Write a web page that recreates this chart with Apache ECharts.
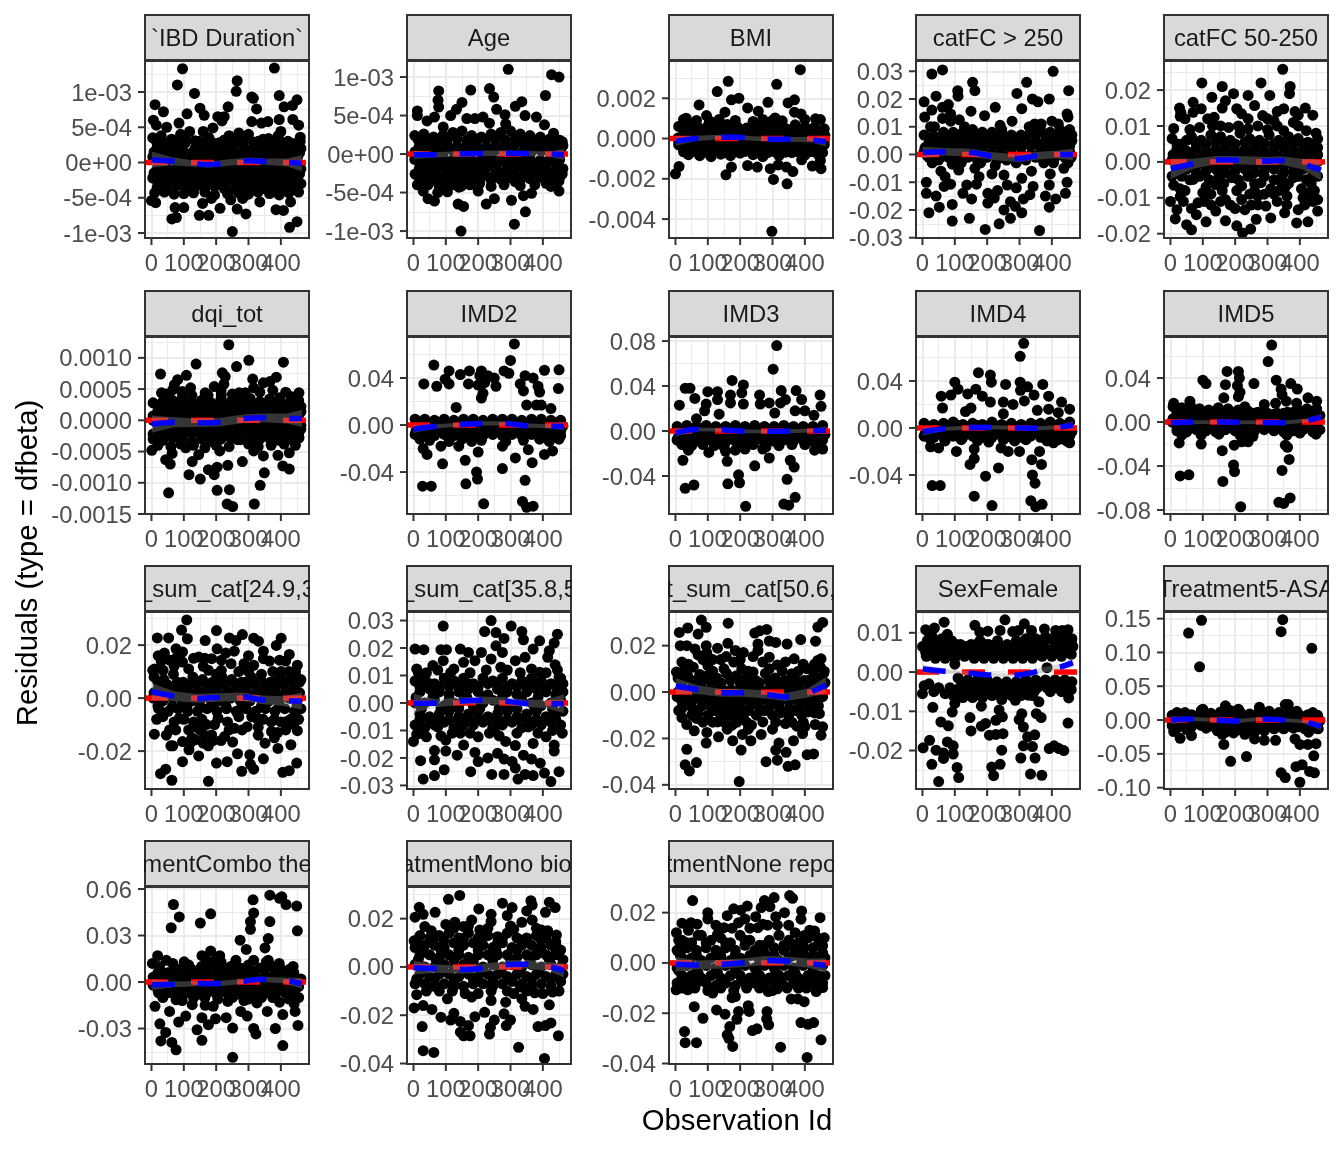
<!DOCTYPE html>
<html><head><meta charset="utf-8"><style>html,body{margin:0;padding:0;background:#fff}#c{width:1344px;height:1152px}</style>
<script src="https://cdn.jsdelivr.net/npm/echarts@6/dist/echarts.min.js"></script></head><body><div id="c"></div>
<script>
// Values: flat pairs of observation id, value (in each panel's unit).
const obsTicks=[0,100,200,300,400];
const ibdPts=[96,133,80,110,133,98,11,82,37,72,150,77,163,67,110,69,6,60,15,53,47,50,85,56,160,44,190,49,205,65,225,65,218,59,237,79,265,116,262,101,380,134,395,95,310,93,315,91,325,76,310,58,340,56,360,58,395,61,410,79,436,81,450,89,437,61,455,53,400,44,460,36,0,-54,13,-57,73,-64,100,-64,63,-80,77,-78,148,-75,177,-75,212,-65,250,-98,265,-66,292,-73,385,-67,408,-68,427,-92,450,-84,158,-58,185,-51,282,-51,335,-56,430,-56,245,-53];
const ibdBand=[4,35,30,38,62,33,90,40,118,44,148,30,178,35,210,28,240,38,270,42,300,40,330,30,362,34,392,38,422,30,452,28,18,22,46,20,78,24,105,28,135,20,165,22,195,18,225,24,255,26,285,22,315,20,345,24,375,22,405,20,435,24,462,20,4,8,32,6,60,10,92,8,122,6,150,9,180,7,210,8,240,7,270,9,300,6,330,8,360,7,392,9,422,7,452,8,18,-8,46,-6,76,-9,105,-7,135,-6,165,-8,195,-7,225,-9,255,-6,285,-8,315,-7,345,-9,375,-6,405,-8,435,-7,462,-9,4,-22,32,-20,62,-23,90,-21,120,-22,150,-20,180,-24,210,-21,240,-23,270,-20,300,-22,330,-24,360,-21,392,-22,422,-20,452,-23,18,-35,46,-37,76,-33,105,-38,135,-35,165,-36,195,-34,225,-37,255,-38,285,-35,315,-33,345,-37,375,-35,405,-36,435,-34,462,-30];
const ibdFill=[15,30,45,28,75,30,105,34,135,31,165,29,195,27,225,32,255,33,285,30,315,29,345,33,375,31,405,28,435,27,460,30,8,15,38,14,68,17,98,16,128,15,158,16,188,14,218,15,248,17,278,15,308,14,338,16,368,15,398,14,428,16,458,14,20,1,50,2,80,0,110,1,140,2,170,0,200,1,230,0,260,2,290,1,320,0,350,2,380,0,410,1,440,2,8,-15,38,-14,68,-16,98,-14,128,-15,158,-14,188,-16,218,-15,248,-14,278,-16,308,-15,338,-14,368,-16,398,-15,428,-14,458,-16,20,-29,50,-28,80,-30,110,-29,140,-28,170,-30,200,-29,230,-28,260,-30,290,-29,320,-28,350,-30,380,-29,410,-28,440,-30,10,-43,40,-42,70,-45,100,-44,130,-43,165,-42,195,-46,235,-44,270,-43,300,-45,330,-42,365,-44,395,-46,425,-43,455,-42];
const ibdFit=[1,4,10,60,2,5,120,-1,4,180,-3,4,240,0,4,300,2.5,4,360,1,4,420,0,5,465,-1,10];
const ageVal=[293,110,427,103,450,100,408,76,78,82,177,83,235,85,248,74,76,70,78,61,150,67,133,58,12,56,12,50,257,58,335,68,315,62,115,50,65,48,42,43,165,46,190,46,215,48,235,40,283,51,285,39,345,50,380,48,405,38,92,35,433,27,147,-100,312,-91,346,-75,303,-60,147,-42,155,-68,138,-65,225,-65,250,-58,340,-54,365,-51,450,-48,425,-42,200,-48,105,-49,65,-61,45,-58,12,-40,30,-48,5,-26,450,-35,450,-21,315,-36,85,-42,75,-50,95,-36];
const ageBand=[4,24,32,26,62,22,92,25,122,28,150,30,180,24,210,22,240,26,270,28,300,30,330,26,360,24,392,22,422,20,452,18,18,10,46,12,76,9,105,12,135,10,165,13,195,11,225,9,255,12,285,10,315,13,345,11,375,10,405,12,435,9,462,11,4,-7,32,-6,62,-8,92,-5,122,-7,150,-6,180,-8,210,-7,240,-5,270,-8,300,-6,330,-7,360,-5,392,-8,422,-6,452,-7,18,-19,46,-21,76,-18,105,-20,135,-22,165,-19,195,-21,225,-18,255,-20,285,-22,315,-19,345,-21,375,-18,405,-20,435,-22,462,-19,30,-33,62,-34,92,-31,122,-33,150,-35,180,-32,210,-30,240,-34,270,-33,300,-31,330,-34,360,-32,392,-30,422,-33,452,-30];
const ageFill=[15,18,45,19,75,17,105,19,135,20,165,18,195,17,225,19,255,20,285,18,315,20,345,18,375,17,405,16,435,15,460,16,5,3,35,3,65,2,95,4,125,3,155,2,185,4,215,3,245,2,275,4,305,3,335,2,365,3,395,4,425,2,455,3,20,-13,50,-14,80,-12,110,-13,140,-14,170,-12,200,-14,230,-13,260,-12,290,-14,320,-13,350,-12,380,-14,410,-13,440,-12,10,-27,40,-26,70,-28,100,-27,130,-26,160,-28,190,-27,220,-26,250,-28,280,-26,310,-27,340,-28,370,-26,400,-27,430,-28,460,-26,80,-42,100,-45,120,-40,140,-43,175,-40,205,-38,240,-42,280,-40,330,-41,375,-40,410,-38,440,-40,20,-38,45,-40];
const ageFit=[1,-1,5,60,-1,3,120,0,3,180,0.5,3,240,1,3,300,1,3,360,0.5,3,420,0,3,465,-0.5,6];
const bmiVal=[386,342,313,269,163,284,129,233,173,192,196,200,73,167,96,114,153,131,223,152,256,136,286,180,348,177,368,192,368,131,388,122,308,102,433,98,448,94,33,101,298,-461,0,-175,11,-139,156,-180,173,-142,223,-134,253,-142,303,-203,345,-225,363,-164,293,-150,318,-131,343,-142,450,-150,423,-137,390,-106,448,-109];
const bmiBand=[10,60,40,75,70,55,100,62,130,58,160,70,190,60,220,52,250,65,280,58,310,60,340,50,370,68,400,58,430,56,460,48,25,20,55,25,85,22,115,18,145,25,175,20,205,28,235,22,265,18,295,24,325,20,355,26,385,22,415,18,445,25,462,15,10,-15,40,-12,70,-18,100,-14,130,-12,160,-16,190,-15,220,-18,250,-12,280,-15,310,-14,340,-18,370,-12,400,-16,430,-15,460,-12,25,-48,55,-50,85,-45,115,-52,145,-48,175,-55,205,-46,235,-50,265,-48,295,-52,325,-46,355,-50,385,-48,415,-52,445,-46,40,-80,75,-85,110,-90,140,-78,170,-85,200,-72,240,-80,270,-90,320,-85,360,-70,400,-82,440,-78];
const bmiFill=[25,42,55,40,85,45,115,38,145,42,175,40,205,44,235,38,265,42,295,40,325,38,355,44,385,40,415,42,445,36,8,2,38,4,68,0,98,3,128,2,158,5,188,1,218,4,248,2,278,0,308,3,338,2,368,5,398,1,428,3,458,0,10,-32,40,-30,70,-34,100,-32,130,-35,160,-30,190,-34,220,-32,250,-30,280,-34,310,-32,340,-35,370,-30,400,-34,430,-32,460,-30,25,-66,60,-64,95,-68,125,-65,155,-70,185,-66,215,-64,250,-68,285,-70,305,-65,340,-68,380,-66,420,-65,455,-70,25,95,65,90,105,88,135,95,185,90,240,85,270,95,300,90,330,88,400,95];
const bmiFit=[1,-13,20,60,0,12,120,6,10,180,7,10,240,0,10,300,-3,10,360,-4,10,420,-6,12,465,-15,20];
const fc250Val=[62,30.5,29,29,404,30,155,26,322,26,109,23,162,23,110,21,452,23,42,21,292,22,392,20,340,20,357,19,5,19,80,18,62,17,29,16,307,16.5,225,17,150,15.6,7,13.5,62,13,87,14.6,87,12,114,12.5,192,14,277,12,447,14.6,450,13.5,37,10,347,11,367,11,194,-27,362,-27.4,92,-24,145,-23,20,-21,237,-25,272,-23,52,-19,92,-18,152,-16,202,-17.5,252,-20,307,-21,287,-18.7,392,-19,442,-14,412,-16,332,-14.5,12,-14,42,-15,67,-11.5,12,-10,57,-6,92,-3.5,137,-11,167,-10.7,215,-7,252,-7.4,202,-14,232,-13,307,-8.6,337,-6,342,-11.5,392,-11,447,-10,437,-5,162,-5,312,-16,222,-15.7,272,-17,112,-5.6,87,-10.7,262,-11];
const fc250Band=[5,7,35,6.5,65,8,95,8,125,8,155,9,185,8,215,8,245,9,275,7,305,7,335,8,365,9,395,8,425,9,455,9,20,4,50,4.5,80,4,110,5,140,4.5,170,5,200,4,230,5,260,4,290,4,320,5,350,4.5,380,5,410,4,440,5,462,5,5,1,35,1.5,65,1,95,1,125,0.5,155,1,185,1,215,0.5,245,0,275,0,305,0,335,0,365,1,395,1,425,1,455,1,20,-1,50,-2,80,-1,110,-1,140,-1,170,-2,200,-1,230,-2,260,-2,290,-2,320,-2,350,-1,380,-1,410,-1,440,-1];
const fc250Fill=[20,6,50,6,80,6,110,7,140,6.5,170,7,200,6,230,6.5,260,6,290,5.5,320,6.5,350,7,380,7,410,6,440,7,462,7,8,2.5,35,3,65,2.5,95,3,125,2.5,155,3,185,2.5,215,3,245,2,275,2,305,2.5,335,3,365,2.5,395,3,425,2.5,455,3,15,-0.5,60,-0.5,95,-1,130,-1,185,-1.5,250,-1,320,-1,370,-1,420,0,460,-1,30,-3,120,-3,180,-3,225,-4,290,-3,375,-3,405,-3,450,-3,70,-8,175,-8,290,-12,395,-7,125,-14,380,-15,25,10,130,10,240,10.5,330,10,420,11,400,12];
const fc250Fit=[1,0.7,1.8,70,1,1.2,150,0.7,1.2,210,-0.5,1.2,300,-1.4,1.2,350,-0.5,1.2,410,0,1.2,465,0,1.8];
const fc50Val=[347,25.8,97,22,280,22,370,21,368,19,160,21,128,18,195,19,240,18.5,307,18.5,70,16.6,170,17,28,15,32,13.8,30,12.7,70,13.8,95,14.8,135,12.4,160,15,205,14.8,260,15.7,220,13.4,285,12.9,350,14.8,385,14,417,15,440,13,320,11.5,380,11,10,9.3,90,9.6,180,9.6,240,9.2,300,9,350,8.7,420,8.7,455,6.4,223,-19.8,65,-18.9,50,-17.5,15,-15.9,205,-17.8,248,-18.7,265,-16,310,-15.6,390,-17,425,-16.7,455,-13.7,455,-10.5,170,-16.4,110,-16.7,80,-14.7,0,-11,30,-9.7,20,-13.3,85,-11.4,140,-13.7,230,-13.3,353,-14.2,295,-12.3,360,-9.5,170,-10.5,220,-10.5,270,-9.5,395,-13.3,430,-8.6,435,-6,345,-6.3,100,-8.6,190,-4.4,220,-6.7,140,-6.3,10,-6.5,70,-4.9,280,-5.8,380,-4.4,125,-9,250,-12,330,-11,410,-10,45,-8];
const fc50Band=[5,6.5,35,5,65,7,95,6,125,7.5,155,7,185,6,215,8,245,6.5,275,6,305,7.5,335,6,365,7,395,6.5,425,5.5,455,4,20,3.5,50,3,80,4,110,3,140,3.5,170,4,200,3,230,3.5,260,4,290,3,320,3.5,350,4,380,3,410,3.5,440,3,5,0.5,35,1,65,0.5,95,0,125,1,155,0.5,185,1,215,0,245,1,275,0.5,305,1,335,0,365,0.5,395,1,425,0.5,455,0,20,-2.5,50,-2,80,-3,110,-2.5,140,-2,170,-3,200,-2.5,230,-2,260,-3,290,-2.5,320,-2,350,-3,380,-2.5,410,-2,440,-3,5,-4,60,-5,120,-5,165,-6,210,-5,260,-6,320,-5,365,-6,420,-5,455,-4];
const fc50Fill=[20,5,50,6,80,5,110,5,140,5.5,170,5,200,5,230,5.5,260,5,290,5,320,5,350,5.5,380,5,410,5,440,4.5,8,2,35,2,65,2,95,1.5,125,2,155,2,185,2,215,1.5,245,2,275,2,305,2,335,1.5,365,2,395,2,425,1.5,455,2,20,-1,50,-1,80,-1,110,-1,140,-1,170,-1,200,-1,230,-1,260,-1,290,-1,320,-1,350,-1,380,-1,410,-1,440,-1,35,-4,90,-4,150,-4,195,-4,240,-4,290,-4,345,-4,395,-4,440,-4,30,-7.5,110,-7,160,-8,205,-8,260,-8,310,-7.5,355,-7,405,-7.5,445,-8,40,-11,105,-11,155,-11,200,-13,270,-12,320,-9,360,-12,440,-11,60,9,130,10,210,10,270,10,330,10,395,10,450,8,45,12,115,12,155,10,240,12,300,12,330,14,395,13,65,-13,125,-12,185,-12,245,-9,290,-9,335,-8,415,-12];
const fc50Fit=[1,-1.9,2.5,70,-0.5,1.2,140,0.5,1,200,0.5,1,300,0.2,1,340,0.4,1,410,-0.6,1.3,465,-2.3,2.5];
const dqiVal=[239,121,138,90,28,74,301,96,263,86,408,93,219,76,228,70,108,72,81,65,313,66,224,58,71,57,386,69,346,60,366,62,194,54,121,52,31,44,316,52,66,49,456,44,431,38,166,44,271,44,396,36,96,41,216,41,53,-116,203,-112,241,-111,234,-134,251,-138,318,-134,336,-104,116,-87,151,-94,194,-87,176,-79,203,-75,236,-72,349,-84,406,-73,426,-78,281,-66,126,-66,58,-70,44,-63,1,-48,64,-53,146,-55,211,-49,391,-56,426,-52,346,-57,316,-49,266,-31,106,-44,456,-28];
const dqiBand=[5,28,35,30,65,32,95,34,125,30,155,32,185,28,215,34,245,30,275,33,305,35,335,30,365,34,395,32,425,28,455,32,20,15,50,14,80,16,110,15,140,14,170,16,200,15,230,17,260,14,290,16,320,15,350,17,380,14,410,16,440,15,462,14,5,0,35,1,65,-1,95,0,125,1,155,-1,185,0,215,1,245,-1,275,0,305,1,335,-1,365,0,395,1,425,0,455,-1,20,-15,50,-16,80,-14,110,-15,140,-17,170,-14,200,-16,230,-15,260,-14,290,-16,320,-15,350,-17,380,-14,410,-16,440,-15,462,-14,5,-30,35,-32,65,-28,95,-30,125,-33,155,-30,185,-34,215,-30,245,-28,275,-31,305,-33,335,-30,365,-29,395,-32,425,-30,455,-28];
const dqiFill=[20,22,50,23,80,24,110,23,140,22,170,24,200,23,230,22,260,24,290,22,320,23,350,24,380,23,410,22,440,24,462,22,5,7,35,8,65,7,95,8,125,7,155,8,185,7,215,8,245,7,275,8,305,7,335,8,365,7,395,8,425,7,455,8,20,-7,50,-8,80,-7,110,-8,140,-7,170,-8,200,-7,230,-8,260,-7,290,-8,320,-7,350,-8,380,-7,410,-8,440,-7,462,-8,5,-22,35,-23,65,-22,95,-23,125,-22,155,-23,185,-24,215,-22,245,-23,275,-22,305,-24,335,-22,365,-23,395,-22,425,-24,455,-22,20,-40,60,-42,90,-38,130,-40,165,-44,200,-40,240,-42,300,-38,330,-42,370,-40,410,-38,445,-40,45,42,95,46,125,40,175,40,215,48,250,42,290,44,335,45,375,48,415,45,450,35];
const dqiFit=[1,-6,12,70,-3,7,140,-4,6,210,-3,6,290,3,6,350,4,6,420,3,7,465,3,12];
const imd2Val=[312,69,300,55,63,51,450,47,405,46.6,110,46,173,46,210,46,280,46,295,44,145,43,98,39,205,42,230,42,250,40,32,35,72,33,110,35,170,35,200,34,220,36,255,33,330,35,345,42,370,40,385,33,390,28,340,29,448,31,215,27,210,23,350,17,380,17,395,17,425,14,132,15,28,-52,55,-52,162,-50,217,-67,337,-65,350,-70,370,-69,345,-47,195,-40,198,-46,275,-37,160,-30,90,-33,315,-28,367,-32,200,-23,42,-25,30,-20,85,-18,180,-14,355,-21,405,-25,430,-22,140,-18,275,-18];
const imd2Band=[5,5,35,5,65,4,95,5,125,4,155,5,185,5,215,4,245,5,275,5,305,5,335,4,365,5,395,5,425,4,455,4,20,-1,50,-2,80,-1,110,-2,140,-1,170,-2,200,-2,230,-1,260,-2,290,-1,320,-2,350,-1,380,-2,410,-1,440,-2,462,-1,5,-8,35,-9,65,-9,95,-8,125,-9,155,-8,185,-9,215,-9,245,-8,275,-9,305,-8,335,-9,365,-8,395,-9,425,-8,455,-9];
const imd2Fill=[20,2,50,1,80,2,110,1,140,2,170,1,200,2,230,1,260,2,290,1,320,2,350,1,380,2,410,1,440,2,8,-5,35,-5,65,-5,95,-5,125,-5,155,-5,185,-5,215,-5,245,-5,275,-5,305,-5,335,-5,365,-5,395,-5,425,-5,455,-5,20,-12,50,-13,110,-14,150,-12,210,-13,285,-14,340,-13,390,-12,420,-14,450,-12];
const imd2Fit=[1,-3.4,3,70,-1.1,1.5,140,0.3,1.5,210,1.4,1.5,280,1.4,1.5,340,-0.3,1.5,410,-1,1.5,465,-1,3];
const imd3Val=[313,76,302,55,175,45,210,41,30,38,45,38,100,35,130,35,170,32,60,29,12,23,95,24,130,28,205,34,210,24,170,25,260,32,262,24,290,25,327,36,340,28,373,36,390,28,447,32,450,22,325,25,135,15,90,18,370,18,400,18,428,14,65,11,307,16,217,-67,30,-51,57,-48,162,-47,198,-46,195,-39,345,-43,335,-65,350,-66,370,-59,245,-31,290,-24,367,-32,355,-26,160,-27,23,-26,103,-19,40,-17,155,-18,215,-16,270,-16,430,-17,455,-16,185,-17];
const imd3Band=[5,4,35,5,65,4,95,5,125,4,155,4,185,5,215,4,245,5,275,4,305,4,335,5,365,4,395,4,425,4,455,5,20,-2,50,-3,80,-2,110,-3,140,-2,170,-3,200,-2,230,-3,260,-2,290,-3,320,-2,350,-3,380,-2,410,-3,440,-2,462,-3,5,-8,35,-9,65,-9,95,-8,125,-9,155,-10,185,-9,215,-8,245,-9,275,-10,305,-9,335,-8,365,-9,395,-8,425,-9,455,-8];
const imd3Fill=[20,1,50,1,80,1,110,1,140,1,170,1,200,1,230,1,260,1,290,1,320,1,350,1,380,1,410,1,440,1,8,-6,35,-6,65,-6,95,-6,125,-6,155,-6,185,-6,215,-6,245,-6,275,-6,305,-6,335,-6,365,-6,395,-6,425,-6,455,-6,20,-12,50,-13,85,-12,120,-13,150,-14,200,-13,240,-12,280,-14,320,-13,360,-12,400,-12,445,-13];
const imd3Fit=[1,-1.5,3,70,1.5,1.5,150,1,1.5,220,-0.3,1.5,340,-0.3,1.5,420,0.5,1.5,465,0.5,3];
const imd4Val=[313,72,302,61,173,47,210,45,213,39,100,39,257,37,302,39,372,37,325,35,165,33,140,29,110,33,88,28,58,27,62,17,185,27,210,22,250,22,280,20,315,23,345,28,390,27,430,22,455,16,150,17,133,14,355,15,390,16,250,12,420,13,303,32,30,-49,55,-49,160,-58,195,-41,235,-34,215,-66,335,-62,350,-67,370,-65,340,-40,348,-47,338,-27,368,-31,147,-31,160,-26,160,-18,25,-16,50,-17,105,-20,300,-20,265,-20,362,-20,455,-12.6,243,-17,405,-12.6];
const imd4Band=[5,4,35,3,65,4,95,5,125,3,155,4,185,3,215,5,245,3,275,4,305,3,335,4,365,4,395,5,425,4,455,5,20,-2,50,-3,80,-2,110,-2,140,-3,170,-2,200,-2,230,-3,260,-2,290,-3,320,-2,350,-3,380,-2,410,-2,440,-2,462,-3,5,-7,35,-8,65,-8,95,-7,125,-8,155,-7,185,-8,215,-8,245,-7,275,-8,305,-8,335,-7,365,-8,395,-7,425,-8,455,-7];
const imd4Fill=[20,1,50,1,80,1,110,2,140,1,170,2,200,1,230,1,260,1,290,1,320,1,350,2,380,2,410,2,440,2,8,-5,35,-5,65,-5,95,-5,125,-5,155,-5,185,-5,215,-5,245,-5,275,-5,305,-5,335,-5,365,-5,395,-5,425,-5,455,-5,25,-10,70,-11,120,-10,170,-11,205,-12,250,-10,285,-11,320,-10,385,-11,420,-10,445,-11];
const imd4Fit=[1,-3,3,70,-0.6,1.5,150,0.3,1.5,220,0.6,1.5,300,0,1.5,360,-0.3,1.5,420,0.6,1.5,465,2.3,3];
const imd5Val=[313,70,302,55,175,46,210,46,213,40,100,38,110,35,170,34,207,33,258,35,327,38,372,35,342,30,392,30,345,25,215,27,210,23,165,22,60,19,10,17,358,19,425,22,452,19,325,17,290,16,390,17,230,14,217,-77,30,-49,57,-48,162,-54,195,-39,198,-45,345,-44,335,-73,350,-74,370,-69,367,-34,355,-21,362,-23,160,-26,27,-19,95,-20,197,-21,240,-18,220,-18];
const imd5Band=[8,14,35,13,62,15,90,12,118,11,148,13,178,12,210,11,240,10,270,9,300,8,330,8,362,9,392,10,422,12,452,12,20,7,50,6,80,6,110,6,140,7,170,6,200,7,230,6,260,5,290,6,320,5,350,6,380,6,410,7,440,7,462,6,5,0,35,-1,65,0,95,1,125,-1,155,0,185,1,215,-1,245,0,275,1,305,-1,335,0,365,1,395,0,425,1,455,0,20,-8,50,-9,80,-7,110,-8,140,-9,170,-7,200,-8,230,-9,260,-8,290,-7,320,-8,350,-9,380,-8,410,-7,440,-9,462,-7];
const imd5Fill=[20,10,50,10,80,9,110,9,140,10,170,9,200,9,230,9,260,8,290,8,320,7,350,8,380,9,410,10,440,10,8,3,35,3,65,3,95,3,125,3,155,3,185,3,215,3,245,3,275,3,305,3,335,3,365,3,395,3,425,3,455,3,20,-4,50,-4,80,-4,110,-4,140,-4,170,-4,200,-4,230,-4,260,-4,290,-4,320,-4,350,-4,380,-4,410,-4,440,-4,35,-12,95,-12,150,-11,215,-12,255,-13,360,-12,400,-10,450,-11];
const imd5Fit=[1,-0.6,2.5,70,0,1.5,150,0,1.5,280,-0.3,1.5,350,-0.6,1.5,420,1.2,1.7,465,4.5,2.5];
const c24Val=[109,29.5,93,25.7,111,22.4,201,25.5,18,22.7,53,22.7,166,21.7,241,22.7,281,24,316,22.6,331,21.5,261,21.7,401,22.6,386,19.9,21,16,76,18.6,203,18.6,256,17.7,346,17.7,426,16.5,96,17.4,146,15.5,56,14.3,346,14.9,396,14.3,186,14.9,216,14.3,246,13,286,13,451,12.4,4,10.5,36,10.5,401,10,316,12.4,216,10.5,96,13.6,176,10.5,446,8.6,63,-31,176,-31.4,28,-28.5,44,-26.8,96,-24,201,-24.5,234,-24,279,-27.6,306,-25,316,-26.8,406,-28,426,-27.4,449,-24.5,346,-22.9,266,-21,304,-21.4,146,-21.8,391,-19,431,-17.6,66,-18,116,-19.5,176,-18,251,-16.6,351,-17,9,-13.6,46,-14,96,-16.4,136,-15.7,451,-12.3,226,-14.5,296,-10.8,371,-12.6,326,-7.6,16,-8,86,-7.6,206,-7.6,156,-8,416,-8.9,256,-11.4,186,-13.9,56,-12,140,-11,370,-9,330,-11];
const c24Band=[8,8,38,7,68,9,98,6,128,8,158,7,188,6,218,8,248,7,278,6,308,8,338,7,368,6,398,8,428,7,458,6,22,4,52,3,82,4,112,3,142,2,172,3,202,4,232,2,262,3,292,4,322,2,352,3,382,4,412,2,442,3,5,0,35,-1,65,0,95,-1,125,-1,155,0,185,-1,215,-1,245,0,275,-1,305,-1,335,0,365,-1,395,-1,425,0,455,0,22,-4,52,-5,82,-4,112,-5,142,-5,172,-4,202,-5,232,-4,262,-5,292,-4,322,-5,352,-4,382,-5,412,-4,442,-5,462,-4,100,-8,130,-9,170,-10,310,-7,380,-8,430,-8];
const c24Fill=[20,6,50,5,80,6,110,5,140,5,170,5,200,6,230,5,260,5,290,6,320,5,350,5,380,6,410,5,440,5,462,7,8,2,38,1,68,2,98,1,128,1,158,2,188,1,218,1,248,2,278,1,308,1,338,2,368,1,398,1,428,2,458,2,20,-3,65,-3,110,-3,150,-3,190,-3,230,-3,280,-3,340,-3,395,-3,450,-3,35,-7,70,-9,115,-12,150,-12,195,-10,235,-9,270,-7,345,-8,400,-9,455,-8,10,11,30,14,70,12,115,11,160,12,200,9,270,10,300,10,340,9,375,10,425,10,60,-18,125,-15,165,-14,215,-16,330,-14,380,-15,415,-12,40,17,75,15,130,15,165,15,230,17,300,16,365,14,415,14,445,10,75,-12,120,-17,160,-17,190,-16,240,-12,280,-12,390,-13,440,-10];
const c24Fit=[1,2.4,2.8,70,0.75,1.6,140,-0.1,1.4,205,0.25,1.4,280,0.5,1.4,340,-0.6,1.4,410,-1.1,1.6,465,-1.1,2.8];
const c35Val=[92,28,240,30,220,26,302,28,335,26,445,25,255,25.6,280,23.5,340,23,390,22.6,5,19.6,32,19.4,85,19.4,102,19.4,145,19.6,255,20.8,275,18.4,435,21.8,170,18.4,210,18.4,370,19.6,420,19,92,15.4,240,16,315,15.4,345,16.6,415,16.6,438,13.9,60,13.6,155,14.8,190,15.4,10,12.4,270,13,365,12.4,450,9.4,390,11.2,125,12.4,30,-27.7,65,-26.4,95,-24.3,177,-25,242,-26,280,-26,323,-27.7,425,-28.6,450,-25,405,-25.5,345,-26,370,-26.4,22,-21,65,-20.7,65,-17.3,100,-17.5,135,-19,190,-18,230,-20,260,-18.3,280,-20.4,305,-21.3,315,-23.7,340,-19,365,-20.4,392,-21.9,435,-15.3,435,-17.5,200,-21.3,0,-14,155,-15.3,315,-15.5,285,-14,370,-14.7,40,-12.3,100,-13.5,200,-12.3,410,-12.3,250,-9.9,10,-11.4,145,-11,355,-8.7,75,-8.7];
const c35Band=[5,8,35,9,65,7,95,9,125,8,155,9,185,7,215,9,245,8,275,9,305,7,335,8,365,9,395,8,425,7,455,9,20,4,50,5,80,4,110,3,140,4,170,5,200,4,230,3,260,5,290,4,320,3,350,4,380,5,410,4,440,3,462,4,5,0,35,0,65,1,95,-1,125,0,155,1,185,-1,215,0,245,1,275,0,305,-1,335,1,365,0,395,-1,425,0,455,1,20,-4,50,-5,80,-4,110,-3,140,-5,170,-4,200,-3,230,-5,260,-4,290,-3,320,-5,350,-4,380,-3,410,-5,440,-4,462,-3,5,-8,35,-9,65,-8,95,-7,125,-9,155,-8,185,-8,215,-7,245,-9,275,-8,305,-7,335,-9,365,-8,395,-8,425,-7,455,-8];
const c35Fill=[20,6,50,7,80,6,110,6,140,6,170,7,200,6,230,7,260,6,290,6,320,6,350,6,380,7,410,6,440,6,462,7,8,2,60,2,110,1,165,2,220,2,275,2,330,2,385,2,445,2,25,-2,85,-2,140,-2,205,-2,265,-2,320,-2,375,-2,430,-2,20,-6,50,-6,80,-6,110,-6,140,-6,170,-6,200,-5.5,230,-6,260,-6,290,-6,320,-6,350,-6,380,-6,410,-6,440,-6,25,-11,85,-12,120,-11,175,-11,235,-11,265,-12,320,-11,385,-11,430,-10,460,-11,15,11,40,11,75,12,115,11,175,11,225,12,290,12,330,11,410,11,445,12];
const c35Fit=[1,-0.1,3,70,-0.1,1.3,140,0.6,1.2,200,1,1.2,280,0.7,1.2,340,-0.1,1.2,410,-0.3,1.3,465,-0.3,3];
const c50Val=[80,31,163,29.7,455,30,440,28,38,27.6,95,27.9,12,25.7,70,25,282,27,245,25.4,260,26.4,433,21.9,387,22.6,345,20.7,290,22,310,21.4,162,21,15,20,35,20,95,20,255,20.7,130,18.9,60,18.6,255,17.9,185,17.9,210,17,157,15.3,97,16.9,367,14.3,440,13.6,20,12.9,450,14.3,240,15.3,270,12.9,315,11.7,180,12.9,100,11.4,55,10.7,3,8.6,448,10.7,407,10,360,7.9,75,7.6,240,8.6,197,-38.6,30,-31.4,43,-34,65,-30.4,35,-24.7,348,-32,370,-31.4,315,-29.4,280,-30,407,-27,427,-26.7,342,-26,310,-25,320,-22,203,-25,177,-21,233,-21,365,-21,95,-22,97,-17.4,58,-16.7,133,-19.3,207,-18.3,265,-18.3,393,-17.9,450,-18.6,455,-15,432,-14,375,-14.7,65,-11.4,175,-14.3,270,-12.9,340,-13.6,130,-12.9,20,-7,235,-14.3,445,-9.3,410,-8.6];
const c50Band=[8,6,38,7,68,5,98,7,128,6,158,8,188,7,218,6,248,5,278,8,308,6,338,5,368,6,398,5,428,7,458,8,22,2,52,2,82,1,112,3,142,2,172,1,202,3,232,2,262,1,292,2,322,1,352,2,382,1,412,3,442,2,462,4,5,-2,35,-3,65,-2,95,-3,125,-2,155,-3,185,-2,215,-3,245,-2,275,-3,305,-3,335,-2,365,-3,395,-2,425,-3,455,-2,22,-6,52,-7,82,-6,112,-7,142,-7,172,-6,202,-7,232,-6,262,-7,292,-6,322,-7,352,-7,382,-6,412,-7,442,-6,100,-10,140,-10,170,-10,210,-11,250,-10,300,-10,350,-10,390,-10,50,-10];
const c50Fill=[20,4,50,5,80,4,110,5,140,4,170,5,200,4,230,4,260,4,290,5,320,4,350,4,380,4,410,5,440,5,8,0,35,0,65,0,95,0,125,0,155,0,185,0,215,0,245,0,275,0,305,0,335,0,365,0,395,0,425,0,455,0,20,-4,50,-4,80,-4,110,-4,140,-5,170,-4,200,-4,230,-4,260,-4,290,-4,320,-5,350,-4,380,-4,410,-5,440,-4,10,-8,70,-9,120,-8,155,-8,190,-9,225,-8,275,-8,325,-9,370,-8,430,-9,25,9,115,9,150,10,205,10,225,9,290,10,330,9,380,9,425,9,460,9,85,14,115,-13,150,-13,190,-13,220,-13,310,-13,360,-13,395,-13,85,-13,20,-11,40,12,70,16,115,14,140,14,200,14,290,15,340,13,395,12,430,12,160,-16,225,-16,300,-16,400,-15,35,-14];
const c50Fit=[1,2.6,3,70,1,1.6,140,-0.3,1.5,205,-0.3,1.5,280,-1.1,1.5,340,-2.1,1.5,410,-0.4,1.7,465,3,3];
const sexVal=[67,12.7,255,13.3,315,12.3,162,11.9,10,10.8,37,11.2,177,10.2,202,10.4,240,10.6,279,10.3,297,10.6,337,10.6,377,11,412,10.6,450,10.8,77,9.6,432,10.6,22,9.6,100,2,385,1.1,50,-27.9,112,-26.9,107,-24.3,29,-23.5,2,-19.3,22,-17.4,42,-19.9,65,-22,65,-20.6,77,-17.8,95,-18.8,95,-20.9,220,-26.4,214,-24.2,240,-23.5,245,-19.9,334,-26,369,-26.3,304,-21.9,312,-18.8,340,-19,348,-21.9,325,-16.5,347,-16,392,-19.5,407,-18.8,422,-19.5,437,-20,450,-13,452,-6.6,147,-11.6,150,-15,182,-13.8,195,-13.1,207,-16.1,227,-15.9,249,-15.7,227,-12.3,237,-9.7,247,-11.4,299,-12.1,307,-10.6,312,-14,352,-10.6,367,-11.6,360,-7.6,57,-12.7,80,-13.7,92,-10.2,32,-9,182,-8.7,327,-5.9,287,-7.2,0,-5.5];
const sexBand=[30,9,60,8.5,90,8,118,7,150,7,178,8,205,7,232,8,262,7,290,8,320,8.5,350,8.5,380,9,410,9,440,9,462,8.5,0,6.5,25,6,50,6.5,80,5.5,110,5.5,140,6,170,6,200,5.5,230,5.5,260,6,290,6,320,6,350,6,380,6,410,6.5,440,6.5,465,6.5,12,4,40,3.5,70,3.5,100,3.5,130,4,160,3.5,190,3.5,220,3.5,250,3.5,280,3.5,310,3.5,340,3.5,370,4,400,4,430,4,460,4.5,110,-1.5,140,-2,170,-2,200,-2,230,-2.5,260,-2.5,290,-2.5,320,-2,350,-2,380,-2,410,-2,440,-2,462,-2.5,5,-3.5,20,-3,50,-4,85,-4,115,-4,145,-4.5,175,-4.5,205,-4.5,235,-4.5,265,-4.5,295,-4.5,325,-4.5,355,-4,385,-4,415,-4,445,-4.5,95,-6,125,-6.5,155,-6.5,185,-6.5,215,-6,245,-7,275,-6,305,-6,340,-6,100,-8];
const sexFill=[15,8,45,7.5,75,7,105,7,135,6.5,165,7,195,7,225,6.5,255,6.5,285,7,315,7,345,7,375,7.5,405,8,435,8,462,7,10,5,35,5,65,5,95,5,125,5,155,5,185,4.5,215,4.5,245,4.5,275,5,305,5,335,5,365,5,395,5,425,5,455,5.5,125,-3,155,-3,185,-3,215,-3.5,245,-3.5,275,-3.5,305,-3,335,-3,365,-3,395,-3,425,-3,455,-3,35,-5,70,-5.5,100,-5,130,-5.5,160,-5.5,190,-5.5,220,-5.5,250,-5.5,280,-5.5,310,-5,345,-5,395,-5,430,-5,460,-4.5];
const sexFit=[1,0.8,1,70,0.2,0.5,140,-0.25,0.4,200,-0.7,0.4,280,-0.85,0.4,335,-0.25,0.5,370,0.5,0.6,430,1.4,0.7,465,2.4,1.1];
const asaVal=[96,147.5,347,148.5,56,128.7,342,130.7,437,106,90,78.7,355,22.8,364,22.8,400,-92,355,-85,342,-78,388,-69,407,-66,430,-76,445,-78,443,-53,450,-35,400,-36,425,-36,385,-28,427,-18,325,-30,235,-54,186,-61,165,-36,30,-27,260,-28,290,-30,195,-19,65,-23,10,-17,457,-13,160,-21,230,-21,170,21,100,16,275,19,210,16,20,11,45,11,390,13,440,11];
const asaBand=[5,7,35,9,65,8,95,14,125,10,155,12,185,14,215,12,245,9,275,13,305,13,335,11,365,12,395,9,425,8,455,7,20,0,50,1,80,-1,110,0,140,1,170,-1,200,0,230,1,260,-1,290,0,320,1,350,-1,380,0,410,1,440,0,462,-1,5,-8,35,-9,65,-10,95,-8,125,-9,155,-12,185,-14,215,-10,245,-15,275,-12,305,-9,335,-10,365,-9,395,-10,425,-8,455,-9];
const asaFill=[20,5,50,5,80,5,110,6,140,6,170,6,200,6,230,6,260,6,290,6,320,6,350,6,380,5,410,5,440,5,8,-4,35,-5,65,-5,95,-4,125,-5,155,-5,185,-5,215,-5,245,-5,275,-5,305,-5,335,-5,365,-5,395,-5,425,-5,455,-4,20,-12,50,-14,110,-12,145,-16,170,-18,205,-15,230,-14,260,-18,290,-16,320,-13,350,-13,380,-12,415,-13,445,-12];
const asaFit=[1,0,5,70,1.5,2.5,140,0,2.5,205,-1.5,2.5,280,1.5,2.5,340,0.5,2.5,410,-2,2.5,465,-9.5,5];
const comboVal=[366,56,396,54,403,55,416,50,449,49,314,53,316,44.5,306,39,306,34,366,39,451,33,68,50,86,42,61,35,151,38,183,44,274,27,361,28,351,22,293,21,183,20,19,17,156,17,211,17,46,14,3,12,101,13,66,12,316,14,261,14,361,14,438,10,251,-48.6,406,-41,76,-43.7,63,-39,29,-38,44,-32.5,26,-27,156,-37.6,141,-30.8,251,-29.7,323,-33.5,316,-30,383,-30,453,-28,176,-27.5,84,-25.8,106,-22,156,-23,198,-23.7,231,-23,296,-22,358,-19,406,-21,444,-19,56,-19,11,-15.7,126,-14.6,166,-15,236,-12.5,286,-12,326,-13.5,441,-14,396,-13,76,-11.4,191,-15.7,276,-19];
const comboBand=[35,6,65,7,95,9,125,8,155,10,185,12,215,13,245,10,275,9,305,7,335,9,365,11,395,10,425,8,5,3,22,3,52,3,82,2,112,3,142,4,172,5,202,5,232,4,262,3,292,3,322,3,352,4,382,4,412,3,442,3,462,2,5,-2,35,-3,65,-2,95,-3,125,-2,155,-3,185,-2,215,-3,245,-2,275,-3,305,-2,335,-3,365,-2,395,-3,425,-2,455,-3,22,-7,52,-7,82,-8,112,-7,142,-8,172,-7,202,-8,232,-7,262,-8,292,-7,322,-8,352,-7,382,-8,412,-7,442,-8];
const comboFill=[20,6,50,6,80,6,110,6,140,7,170,8,200,9,230,8,260,6,290,6,320,7,350,8,380,8,410,7,440,6,8,0,35,1,65,1,95,0,125,0,155,1,185,1,215,1,245,1,275,1,305,1,335,1,365,1,395,1,425,1,455,0,20,-5,50,-5,80,-5,110,-4,140,-5,170,-5,200,-4,230,-5,260,-5,290,-4,320,-5,350,-5,380,-4,410,-5,440,-5,35,-10,95,-12,130,-10,165,-10,205,-11,250,-10,300,-11,340,-10,375,-10,425,-11,455,-10,25,10,115,11,170,14,200,15,300,11,355,13,395,12];
const comboFit=[1,-1.7,3,70,-1.5,1.6,140,-1,1.5,210,-1,1.5,280,0.4,1.5,340,1.7,1.5,410,1,1.6,465,-0.9,3];
const monoVal=[143,29.6,108,28,275,26.4,363,27.4,420,26.8,438,24.6,305,24.6,18,24.7,67,22.6,202,24,367,25.6,240,21.8,30,21.8,5,20.6,290,21.3,350,23.2,408,22.6,180,19.4,128,18.5,100,17.6,240,18.8,335,18.5,367,19.4,310,15.6,395,15.3,35,16.7,2,10.8,442,13.2,440,10.4,205,15.3,155,16.7,90,8.6,260,12.5,405,-37.9,325,-33.3,30,-34.7,63,-35.4,27,-24.7,448,-28.5,155,-28.5,175,-28.5,145,-27,235,-27.8,238,-25,170,-24.3,250,-22,287,-24.3,300,-22,385,-24.7,408,-24.3,425,-23.2,115,-22,85,-20.8,125,-19.2,145,-22.6,190,-20.6,2,-17,57,-17.6,220,-18.8,280,-19.4,370,-17.6,420,-15.7,345,-16.3,285,-14.6,240,-13.9,335,-13.2,30,-16,180,-12.5,105,-13.2,290,-10,375,-10.7,430,-10.4,330,-8.3,10,-11.5];
const monoBand=[20,13,50,12,80,13,110,14,140,12,170,14,200,12,230,13,260,10,290,14,320,12,350,12,380,13,410,12,440,9,5,8,35,9,65,9,95,8,125,10,155,9,185,10,215,9,245,8,275,10,305,8,335,9,365,9,395,8,425,9,455,7,20,5,50,5,80,4,110,5,140,5,170,4,200,5,230,5,260,5,290,5,320,4,350,5,380,5,410,5,440,5,462,3,5,1,35,0,65,0,95,1,125,0,155,1,185,0,215,0,245,1,275,0,305,1,335,0,365,1,395,0,425,1,455,0,20,-3,50,-4,80,-3,110,-3,140,-4,170,-3,200,-4,230,-3,260,-3,290,-4,320,-3,350,-4,380,-3,410,-4,440,-3,462,-3,5,-7,35,-7,65,-8,95,-7,125,-8,155,-8,185,-7,215,-7,245,-8,275,-7,305,-6,335,-7,365,-8,395,-7,425,-8,455,-6];
const monoFill=[10,11,60,11,95,11,155,12,215,12,275,12,335,11,395,11,30,7,85,7,140,7,200,7,255,7,320,7,380,7,440,6,15,3,70,3,125,3,185,2,245,3,300,3,360,3,420,3,30,-1,90,-1,150,-1,210,-1,270,-1,330,-1,390,-1,450,-1,10,-5,65,-5,125,-6,185,-5,245,-6,305,-5,365,-5,425,-5,40,-10,80,-10,120,-10,160,-11,200,-11,240,-10,310,-11,350,-10,400,-11,450,-10,55,15,125,16,170,17,230,16,300,17,380,16,415,15];
const monoFit=[1,-0.3,2.5,70,-0.7,1.5,150,-1.1,1.5,215,-0.5,1.5,290,1,1.5,350,1.1,1.5,420,0.1,1.6,465,-1.5,2.5];
const noneVal=[53,24.8,353,26.8,362,25.7,305,26,275,24.8,265,22,292,22.4,222,22.6,202,21,180,21.5,100,20,160,18.8,248,18.4,390,20.7,388,17.4,337,20,310,18.4,447,18,100,17.5,20,15.8,48,16,67,15.4,215,17.5,270,15.4,350,15,3,12,430,12.7,398,10.9,70,11,130,11.4,175,13.8,230,13.8,315,15,10,9,435,10.5,455,6.8,15,5,407,-37.6,325,-33.5,30,-31.7,65,-31.7,28,-27.3,85,-22,58,-17.4,177,-33.2,160,-28.6,165,-30,168,-25.3,190,-22.4,195,-19.3,153,-20.4,127,-18.7,225,-17,228,-19.3,238,-26.9,252,-26.2,288,-24.6,283,-19.3,282,-22.3,450,-30.6,388,-23.7,410,-24.4,427,-23.7,358,-14.3,398,-15.4,378,-14.3,185,-13.4,2,-10.7,38,-10.7,115,-12,175,-13.8,287,-11.4,315,-10.3,380,-10,435,-11.4,455,-9.8];
const noneBand=[20,9,50,8,80,11,110,9,140,10,170,8,200,11,230,9,260,7,290,9,320,11,350,9,380,8,410,10,440,7,5,5,35,6,65,5,95,6,125,5,155,6,185,5,215,7,245,5,275,4,305,6,335,5,365,6,395,5,425,6,455,4,20,2,50,2,80,1,110,2,140,3,170,1,200,2,230,3,260,1,290,2,320,1,350,2,380,3,410,2,440,1,462,2,5,-2,35,-1,65,-2,95,-1,125,-2,155,-1,185,-2,215,-1,245,-2,275,-1,305,-2,335,-1,365,-2,395,-1,425,-2,455,-1,20,-5,50,-5,80,-6,110,-5,140,-6,170,-5,200,-5,230,-6,260,-5,290,-6,320,-5,350,-5,380,-6,410,-5,440,-5,462,-5,5,-8,35,-8,65,-8,95,-8,125,-9,155,-8,185,-9,215,-8,245,-8,275,-8,305,-8,335,-9,365,-8,395,-8,425,-8,455,-8];
const noneFill=[35,8,95,8,155,8,215,9,275,7,335,7,395,7,15,3,65,3,125,3,185,3,245,3,305,3,365,3,425,3,30,0,90,0,150,0,210,0,270,0,330,0,390,0,450,0,10,-3,70,-4,130,-4,190,-4,250,-3,310,-4,370,-4,430,-4,25,-7,85,-7,145,-7,205,-7,265,-7,325,-7,385,-7,445,-7,20,-10,60,-10,100,-11,140,-10,180,-11,220,-10,260,-10,300,-11,345,-10,405,-10,440,-10,40,13,125,15,150,14,195,16,255,14,285,15,370,12,415,13,460,10];
const noneFit=[1,-0.5,2.5,70,-0.8,1.5,140,-0.5,1.5,205,0,1.5,280,1,1.5,340,0.8,1.5,410,-0.1,1.6,465,-1,2.5];

const panels=[
{t:'`IBD Duration`',u:1e-5,p:ibdPts,b:ibdBand,m:ibdFill,f:ibdFit,ticks:[-1e-3,-5e-4,0,5e-4,1e-3],labs:['-1e-03','-5e-04','0e+00','5e-04','1e-03'],lo:-1.071e-3,hi:1.44e-3},
{t:'Age',u:1e-5,p:ageVal,b:ageBand,m:ageFill,f:ageFit,ticks:[-1e-3,-5e-4,0,5e-4,1e-3],labs:['-1e-03','-5e-04','0e+00','5e-04','1e-03'],lo:-1.09e-3,hi:1.208e-3},
{t:'BMI',u:1e-5,p:bmiVal,b:bmiBand,m:bmiFill,f:bmiFit,ticks:[-0.004,-0.002,0,0.002],labs:['-0.004','-0.002','0.000','0.002'],lo:-0.00494,hi:0.00385},
{t:'catFC > 250',u:1e-3,p:fc250Val,b:fc250Band,m:fc250Fill,f:fc250Fit,ticks:[-0.03,-0.02,-0.01,0,0.01,0.02,0.03],labs:['-0.03','-0.02','-0.01','0.00','0.01','0.02','0.03'],lo:-0.0301,hi:0.0337},
{t:'catFC 50-250',u:1e-3,p:fc50Val,b:fc50Band,m:fc50Fill,f:fc50Fit,ticks:[-0.02,-0.01,0,0.01,0.02],labs:['-0.02','-0.01','0.00','0.01','0.02'],lo:-0.0212,hi:0.0281},
{t:'dqi_tot',u:1e-5,p:dqiVal,b:dqiBand,m:dqiFill,f:dqiFit,ticks:[-0.0015,-0.001,-0.0005,0,0.0005,0.001],labs:['-0.0015','-0.0010','-0.0005','0.0000','0.0005','0.0010'],lo:-0.0015,hi:0.001334},
{t:'IMD2',u:1e-3,p:imd2Val,b:imd2Band,m:imd2Fill,f:imd2Fit,ticks:[-0.04,0,0.04],labs:['-0.04','0.00','0.04'],lo:-0.0757,hi:0.0749},
{t:'IMD3',u:1e-3,p:imd3Val,b:imd3Band,m:imd3Fill,f:imd3Fit,ticks:[-0.04,0,0.04,0.08],labs:['-0.04','0.00','0.04','0.08'],lo:-0.0738,hi:0.0836},
{t:'IMD4',u:1e-3,p:imd4Val,b:imd4Band,m:imd4Fill,f:imd4Fit,ticks:[-0.04,0,0.04],labs:['-0.04','0.00','0.04'],lo:-0.0732,hi:0.0774},
{t:'IMD5',u:1e-3,p:imd5Val,b:imd5Band,m:imd5Fill,f:imd5Fit,ticks:[-0.08,-0.04,0,0.04],labs:['-0.08','-0.04','0.00','0.04'],lo:-0.0836,hi:0.0773},
{t:'_sum_cat[24.9,3',u:1e-3,p:c24Val,b:c24Band,m:c24Fill,f:c24Fit,ticks:[-0.02,0,0.02],labs:['-0.02','0.00','0.02'],lo:-0.0343,hi:0.0325},
{t:'_sum_cat[35.8,5',u:1e-3,p:c35Val,b:c35Band,m:c35Fill,f:c35Fit,ticks:[-0.03,-0.02,-0.01,0,0.01,0.02,0.03],labs:['-0.03','-0.02','-0.01','0.00','0.01','0.02','0.03'],lo:-0.0313,hi:0.0331},
{t:'t_sum_cat[50.6,',u:1e-3,p:c50Val,b:c50Band,m:c50Fill,f:c50Fit,ticks:[-0.04,-0.02,0,0.02],labs:['-0.04','-0.02','0.00','0.02'],lo:-0.0418,hi:0.0345},
{t:'SexFemale',u:1e-3,p:sexVal,b:sexBand,m:sexFill,f:sexFit,ticks:[-0.02,-0.01,0,0.01],labs:['-0.02','-0.01','0.00','0.01'],lo:-0.0298,hi:0.0153},
{t:'Treatment5-ASA',u:1e-3,p:asaVal,b:asaBand,m:asaFill,f:asaFit,ticks:[-0.1,-0.05,0,0.05,0.1,0.15],labs:['-0.10','-0.05','0.00','0.05','0.10','0.15'],lo:-0.102,hi:0.1598},
{t:'mentCombo the',u:1e-3,p:comboVal,b:comboBand,m:comboFill,f:comboFit,ticks:[-0.03,0,0.03,0.06],labs:['-0.03','0.00','0.03','0.06'],lo:-0.0529,hi:0.0613},
{t:'atmentMono biol',u:1e-3,p:monoVal,b:monoBand,m:monoFill,f:monoFit,ticks:[-0.04,-0.02,0,0.02],labs:['-0.04','-0.02','0.00','0.02'],lo:-0.0402,hi:0.0331},
{t:'tmentNone repo',u:1e-3,p:noneVal,b:noneBand,m:noneFill,f:noneFit,ticks:[-0.04,-0.02,0,0.02],labs:['-0.04','-0.02','0.00','0.02'],lo:-0.0402,hi:0.0302}
];
const colLeft=[145,407,669,916,1164], rowTop=[61,337,612,887], PW=164, PH=177, SH=45;
const xMin=-20,xMax=487,bandWidening=1.15;
const FONT='"Liberation Sans"';
function pairs(a,n){const o=[];for(let i=0;i<a.length;i+=n)o.push(a.slice(i,i+n));return o;}
function minors(ticks,lo,hi){const s=(ticks[1]-ticks[0])/2,o=[];const k0=Math.ceil((lo-ticks[0])/s),k1=Math.floor((hi-ticks[0])/s);for(let k=k0;k<=k1;k++){if(k%2!==0)o.push(ticks[0]+k*s);}return o;}
const grid=[],xAxis=[],yAxis=[],series=[],graphic=[];
const minorLine={show:true,lineStyle:{color:'#EBEBEB',width:1}}, majorLine={show:true,lineStyle:{color:'#EBEBEB',width:2}};
panels.forEach((P,i)=>{
  const L=colLeft[i%5],T=rowTop[Math.floor(i/5)];
  grid.push({left:L,top:T,width:PW,height:PH,containLabel:false,show:false});
  const g=grid.length-1, ax=xAxis.length, ay=yAxis.length;
  xAxis.push({type:'value',gridIndex:g,min:xMin,max:xMax,position:'bottom',axisLine:{show:false},
    axisTick:{show:false,customValues:obsTicks},
    axisLabel:{show:true,customValues:obsTicks.concat([xMax]),margin:14,color:'#4D4D4D',fontSize:23.8,fontFamily:FONT,hideOverlap:false,showMinLabel:true,showMaxLabel:true,formatter:v=>obsTicks.indexOf(v)>=0?String(v):''},splitLine:majorLine});
  xAxis.push({type:'value',gridIndex:g,min:xMin,max:xMax,position:'top',axisLine:{show:false},
    axisTick:{show:false,customValues:[50,150,250,350,450]},axisLabel:{show:false},splitLine:minorLine});
  yAxis.push({type:'value',gridIndex:g,min:P.lo,max:P.hi,position:'left',axisLine:{show:false},
    axisTick:{show:false,customValues:P.ticks},
    axisLabel:{show:true,customValues:P.ticks,margin:13,color:'#4D4D4D',fontSize:23.8,fontFamily:FONT,hideOverlap:false,showMinLabel:true,showMaxLabel:true,
      rich:{a:{color:'#4D4D4D',fontSize:23.8,fontFamily:FONT,padding:[4,0,0,0]}},
      formatter:v=>{const k=P.ticks.indexOf(v);return k>=0?'{a|'+P.labs[k]+'}':'';}},splitLine:majorLine});
  yAxis.push({type:'value',gridIndex:g,min:P.lo,max:P.hi,position:'right',axisLine:{show:false},
    axisTick:{show:false,customValues:minors(P.ticks,P.lo,P.hi)},axisLabel:{show:false},splitLine:minorLine});
  const pts=pairs(P.b,2).concat(pairs(P.m,2),pairs(P.p,2)).map(d=>[d[0],d[1]*P.u]);
  const fit=pairs(P.f,3);
  series.push({type:'scatter',xAxisIndex:ax,yAxisIndex:ay,data:pts,symbolSize:11,itemStyle:{color:'#000',opacity:1},silent:true,z:2,clip:true});
  series.push({type:'line',xAxisIndex:ax,yAxisIndex:ay,data:[[xMin,0],[xMax,0]],symbol:'none',lineStyle:{color:'#FF0000',width:5.5,type:[23,23],cap:'butt'},silent:true,z:3});
  series.push({type:'custom',xAxisIndex:ax,yAxisIndex:ay,data:[[fit[0][0],fit[0][1]*P.u]],silent:true,z:4,clip:true,encode:{x:0,y:1},
    renderItem:(params,api)=>{const up=fit.map(d=>api.coord([d[0],(d[1]+d[2]*bandWidening)*P.u]));const dn=fit.slice().reverse().map(d=>api.coord([d[0],(d[1]-d[2]*bandWidening)*P.u]));
      return {type:'polygon',shape:{points:up.concat(dn)},style:{fill:'rgba(153,153,153,0.35)'}};}});
  series.push({type:'line',xAxisIndex:ax,yAxisIndex:ay,data:fit.map(d=>[d[0],d[1]*P.u]),smooth:0.3,symbol:'none',lineStyle:{color:'#0000FF',width:5.5,type:[23,23],cap:'butt'},silent:true,z:5});
  series.push({type:'custom',xAxisIndex:ax,yAxisIndex:ay,data:[[xMin,P.lo]],silent:true,zlevel:1,z:90,clip:false,encode:{x:0,y:1},
    renderItem:(params,api)=>{const st={stroke:'#333333',lineWidth:2,fill:null};const ch=[];
      P.ticks.forEach(t=>{const c=api.coord([xMin,t]);ch.push({type:'line',shape:{x1:c[0]-7,y1:c[1],x2:c[0],y2:c[1]},style:st});});
      obsTicks.forEach(t=>{const c=api.coord([t,P.lo]);ch.push({type:'line',shape:{x1:c[0],y1:c[1],x2:c[0],y2:c[1]+7},style:st});});
      return {type:'group',children:ch};}});
  graphic.push({type:'rect',shape:{x:L,y:T-SH-1,width:PW,height:SH},style:{fill:'#D9D9D9',stroke:'#333333',lineWidth:2},z:50,silent:true});
  graphic.push({type:'text',x:L+PW/2,y:T-SH/2+1,style:{text:P.t,fill:'#1A1A1A',font:'23.8px '+FONT,textAlign:'center',verticalAlign:'middle'},z:51,silent:true});
  graphic.push({type:'rect',shape:{x:L-14,y:T-SH-2,width:13,height:SH+2},style:{fill:'#fff'},z:52,silent:true});
  graphic.push({type:'rect',shape:{x:L+PW+1,y:T-SH-2,width:13,height:SH+2},style:{fill:'#fff'},z:52,silent:true});
  graphic.push({type:'rect',shape:{x:L,y:T,width:PW,height:PH},style:{fill:null,stroke:'#333333',lineWidth:2},z:53,silent:true});
});
graphic.push({type:'text',x:737,y:1122,style:{text:'Observation Id',fill:'#000',font:'29.3px '+FONT,textAlign:'center',verticalAlign:'middle'},z:60,silent:true});
graphic.push({type:'text',x:29,y:563,rotation:Math.PI/2,style:{text:'Residuals (type = dfbeta)',fill:'#000',font:'29.3px '+FONT,textAlign:'center',verticalAlign:'middle'},z:60,silent:true});
const chart=echarts.init(document.getElementById('c'),null,{renderer:'canvas'});
chart.setOption({animation:false,backgroundColor:'#fff',tooltip:{show:false},grid,xAxis,yAxis,series,graphic});
</script></body></html>
